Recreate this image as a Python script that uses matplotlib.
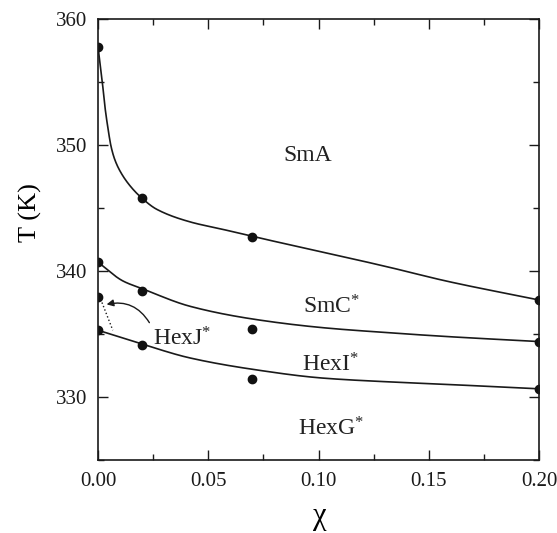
import matplotlib
matplotlib.use("Agg")
import numpy as np
import matplotlib.pyplot as plt
from matplotlib.ticker import MultipleLocator, FormatStrFormatter

plt.rcParams['font.family'] = ['Liberation Serif', 'DejaVu Serif']
plt.rcParams['mathtext.fontset'] = 'custom'
plt.rcParams['mathtext.rm'] = 'Liberation Serif'
plt.rcParams['mathtext.it'] = 'Liberation Serif:italic'

# measured transition points
x_pts = [0.0, 0.02, 0.07, 0.2]
t_sma = [357.8, 345.8, 342.7, 337.7]
t_smc = [340.7, 338.4, 335.4, 334.4]
t_hexi = [335.3, 334.1, 331.45, 330.65]
x_hexj = [0.0]
t_hexj = [337.9]

# guide-line curves
x_c1 = [0.0, 0.00195, 0.00317, 0.00454, 0.0059, 0.0077, 0.01075, 0.0153, 0.0198,
        0.0266, 0.0417, 0.0567, 0.07, 0.102, 0.132, 0.158, 0.2]
y_c1 = [357.8, 355.0, 353.0, 351.3, 349.9, 348.8, 347.7, 346.6, 345.8,
        344.9, 343.9, 343.3, 342.75, 341.5, 340.3, 339.2, 337.7]
x_c2 = [0.0, 0.0114, 0.02, 0.0417, 0.0697, 0.102, 0.132, 0.158, 0.2]
y_c2 = [340.7, 339.2, 338.6, 337.2, 336.2, 335.5, 335.1, 334.8, 334.4]
x_c3 = [0.0, 0.02, 0.0417, 0.07, 0.102, 0.132, 0.158, 0.2]
y_c3 = [335.3, 334.2, 333.1, 332.2, 331.5, 331.2, 331.0, 330.65]

x_dot = [0.0018, 0.0067]
y_dot = [337.5, 335.3]


def smooth_path(xk, yk, n=400):
    """Monotone cubic (PCHIP) rendering of a line through the read knots."""
    x = np.asarray(xk, float)
    y = np.asarray(yk, float)
    h = np.diff(x)
    d = np.diff(y) / h
    m = np.zeros_like(y)
    for i in range(1, len(x) - 1):
        if d[i - 1] * d[i] > 0:
            w1 = 2 * h[i] + h[i - 1]
            w2 = h[i] + 2 * h[i - 1]
            m[i] = (w1 + w2) / (w1 / d[i - 1] + w2 / d[i])
    m[0] = d[0]
    m[-1] = d[-1]
    xs = np.linspace(x[0], x[-1], n)
    idx = np.clip(np.searchsorted(x, xs) - 1, 0, len(h) - 1)
    t = (xs - x[idx]) / h[idx]
    h00 = 2 * t**3 - 3 * t**2 + 1
    h10 = t**3 - 2 * t**2 + t
    h01 = -2 * t**3 + 3 * t**2
    h11 = t**3 - t**2
    ys = h00 * y[idx] + h10 * h[idx] * m[idx] + h01 * y[idx + 1] + h11 * h[idx] * m[idx + 1]
    return xs, ys


fig = plt.figure(figsize=(5.57, 5.33), dpi=100)
ax = fig.add_axes([98/557, 1-460/533, (539-98)/557, (460-19)/533])

lw = 1.2
for xk, yk in ((x_c1, y_c1), (x_c2, y_c2), (x_c3, y_c3)):
    xs, ys = smooth_path(xk, yk, 2000)
    ax.plot(xs, ys, color='#1a1a1a', lw=lw)
ax.plot(x_dot, y_dot, color='#1a1a1a', lw=1.0, ls=':')

for ys in (t_sma, t_smc, t_hexi):
    ax.plot(x_pts, ys, 'o', color='#111111', ms=6, ls='none')
ax.plot(x_hexj, t_hexj, 'o', color='#111111', ms=6, ls='none')

ax.annotate('', xy=(0.0039, 337.35), xytext=(0.0233, 335.9),
            arrowprops=dict(arrowstyle='-|>', connectionstyle='arc3,rad=0.35',
                            lw=1.0, color='#1a1a1a', shrinkA=0, shrinkB=0,
                            mutation_scale=10))

fs = 17
tc = '#222222'
ax.text(0.084, 348.7, 'SmA', fontsize=fs, ha='left', va='baseline', color=tc)
ax.text(0.0931, 336.6, 'SmC$^{*}$', fontsize=fs, ha='left', va='baseline', color=tc)
ax.text(0.0251, 334.1, 'HexJ$^{*}$', fontsize=fs, ha='left', va='baseline', color=tc)
ax.text(0.0924, 332.0, 'HexI$^{*}$', fontsize=fs, ha='left', va='baseline', color=tc)
ax.text(0.0905, 326.95, 'HexG$^{*}$', fontsize=fs, ha='left', va='baseline', color=tc)

ax.set_xlim(0, 0.2)
ax.set_ylim(325, 360)
ax.xaxis.set_major_locator(MultipleLocator(0.05))
ax.xaxis.set_minor_locator(MultipleLocator(0.025))
ax.yaxis.set_major_locator(MultipleLocator(10))
ax.yaxis.set_minor_locator(MultipleLocator(5))
ax.xaxis.set_major_formatter(FormatStrFormatter('%.2f'))
ax.tick_params(which='both', direction='in', top=True, right=True, width=1.0,
               colors='#1a1a1a')
ax.tick_params(which='major', length=7, labelsize=15)
ax.tick_params(axis='x', which='major', pad=9)
ax.tick_params(axis='y', which='major', pad=8)
ax.tick_params(which='minor', length=4)
for s in ax.spines.values():
    s.set_linewidth(1.2)
    s.set_color('#1a1a1a')

ax.set_xlabel('χ', fontsize=22)
ax.xaxis.set_label_coords(0.503, -0.095)
ax.set_ylabel('T (K)', fontsize=19)
ax.yaxis.set_label_coords(-0.128, 0.56)

fig.savefig('out.png', dpi=100)
